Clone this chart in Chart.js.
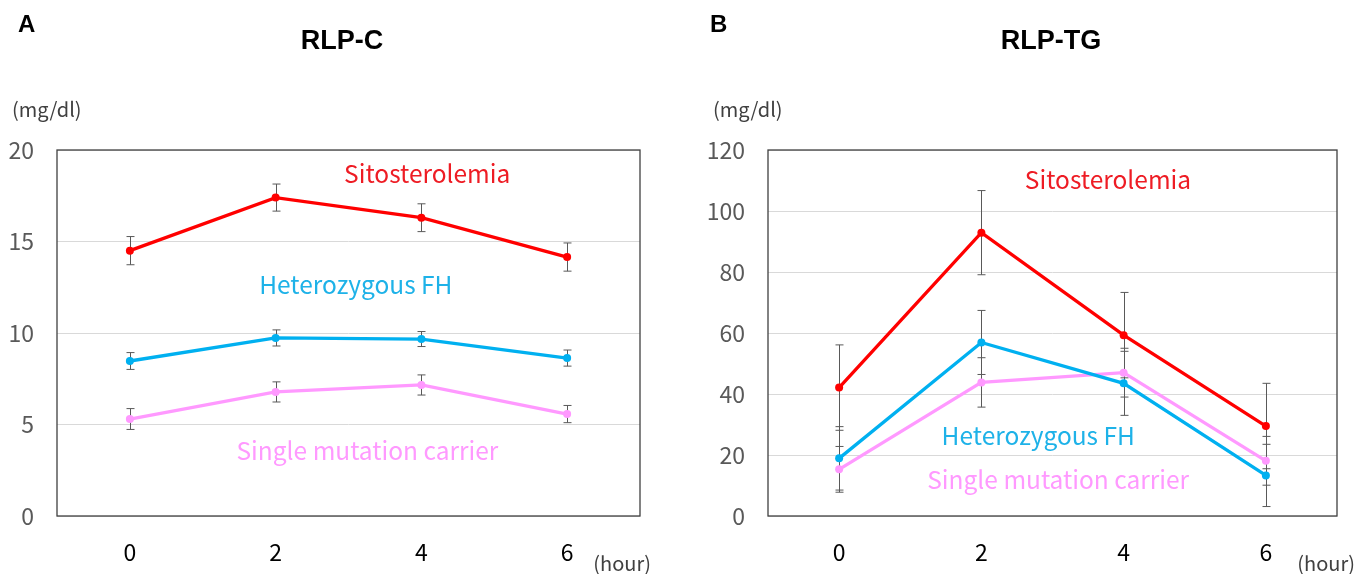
<!DOCTYPE html>
<html lang="en">
<head>
  <meta charset="UTF-8">
  <title>RLP-C / RLP-TG</title>
  <script src="https://cdn.jsdelivr.net/npm/chart.js@4.4.1/dist/chart.umd.min.js"></script>
  <style>
    body { margin: 0; background: #fff; }
    .panel { position: absolute; top: 0; }
  </style>
</head>
<body>
  <div class="panel" style="left:0"><canvas id="chartA" width="678" height="574"></canvas></div>
  <div class="panel" style="left:678px"><canvas id="chartB" width="677" height="574"></canvas></div>

  <script>
    // time points (hour)
    var hours = ["0", "2", "4", "6"];

    // RLP-C (mg/dl)
    var rlpcSito = [14.5, 17.4, 16.3, 14.15];
    var rlpcSitoErr = [0.77, 0.74, 0.76, 0.77];
    var rlpcHetero = [8.47, 9.73, 9.67, 8.63];
    var rlpcHeteroErr = [0.46, 0.44, 0.41, 0.44];
    var rlpcSingle = [5.3, 6.78, 7.16, 5.57];
    var rlpcSingleErr = [0.57, 0.55, 0.55, 0.47];

    // RLP-TG (mg/dl)
    var rlptgSito = [42.1, 92.9, 59.3, 29.5];
    var rlptgSitoErr = [14, 13.8, 14, 14];
    var rlptgHetero = [18.9, 56.9, 43.5, 13.3];
    var rlptgHeteroErr = [10.4, 10.5, 10.5, 10.2];
    var rlptgSingle = [15.3, 43.8, 47, 18.1];
    var rlptgSingleErr = [7.5, 8.1, 8, 8];

    var RED = "#FF0000", BLUE = "#00B0F0", PINK = "#FF99FF";
    var JP = "'Noto Sans CJK JP', 'Noto Sans', sans-serif";

    // error bars + plot frame, drawn under the lines
    var errorBars = {
      id: "errorBars",
      beforeDatasetsDraw(chart) {
        let ctx = chart.ctx, xs = chart.scales.x, ys = chart.scales.y, a = chart.chartArea;
        ctx.save();
        ctx.strokeStyle = "#404040";
        ctx.lineWidth = 1.3;
        ctx.strokeRect(a.left, a.top, a.right - a.left, a.bottom - a.top);
        ctx.strokeStyle = "#595959";
        ctx.lineWidth = 1;
        chart.data.datasets.forEach((ds) => {
          ds.errors.forEach((e, i) => {
            let x = Math.round(xs.getPixelForValue(i)) + 0.5;
            let y1 = ys.getPixelForValue(ds.data[i] + e);
            let y2 = ys.getPixelForValue(ds.data[i] - e);
            ctx.beginPath();
            ctx.moveTo(x, y1); ctx.lineTo(x, y2);
            ctx.moveTo(x - 4, y1); ctx.lineTo(x + 4, y1);
            ctx.moveTo(x - 4, y2); ctx.lineTo(x + 4, y2);
            ctx.stroke();
          });
        });
        ctx.restore();
      }
    };

    // titles, units and series names
    var texts = {
      id: "texts",
      afterDraw(chart) {
        let o = chart.options.plugins.texts;
        let ctx = chart.ctx, xs = chart.scales.x, ys = chart.scales.y;
        ctx.save();
        ctx.textBaseline = "middle";
        ctx.fillStyle = "#000";
        ctx.font = "bold 24px 'Liberation Sans', Arial, sans-serif";
        ctx.textAlign = "left";
        ctx.fillText(o.letter, o.letterX, 25);
        ctx.font = "bold 27px 'Liberation Sans', Arial, sans-serif";
        ctx.textAlign = "center";
        ctx.fillText(o.title, o.titleX, 42);
        ctx.font = "20px " + JP;
        ctx.fillStyle = "#404040";
        ctx.textAlign = "left";
        ctx.fillText("(mg/dl)", o.unitX, 109);
        ctx.textAlign = "right";
        ctx.fillText("(hour)", o.hourRight, 563);
        ctx.font = "24.5px " + JP;
        ctx.textAlign = "center";
        o.labels.forEach((l) => {
          ctx.fillStyle = l.color;
          ctx.fillText(l.text, xs.getPixelForValue(l.at[0]), ys.getPixelForValue(l.at[1]));
        });
        ctx.restore();
      }
    };

    function series(data, errors, color) {
      return {
        data: data,
        errors: errors,
        borderColor: color,
        backgroundColor: color,
        borderWidth: 3.3,
        pointRadius: 4,
        pointBorderWidth: 0,
        tension: 0
      };
    }

    function makeChart(id, sets, yMax, yStep, axisWidth, padRight, textOpts) {
      return new Chart(id, {
        type: "line",
        data: { labels: hours, datasets: sets },
        plugins: [errorBars, texts],
        options: {
          responsive: false,
          animation: false,
          layout: { padding: { top: 150, right: padRight, left: 0, bottom: 0 } },
          plugins: {
            legend: { display: false },
            tooltip: { enabled: false },
            texts: textOpts
          },
          scales: {
            x: {
              offset: true,
              grid: { display: false, drawTicks: false },
              border: { display: false },
              ticks: { color: "#000", padding: 22, font: { family: JP, size: 23 } },
              afterFit: (s) => { s.height = 58; }
            },
            y: {
              min: 0,
              max: yMax,
              grid: { color: "#D9D9D9", lineWidth: 1, drawTicks: false },
              border: { display: false },
              ticks: { stepSize: yStep, color: "#595959", padding: 23, font: { family: JP, size: 23 } },
              afterFit: (s) => { s.width = axisWidth; }
            }
          }
        }
      });
    }

    makeChart("chartA", [
      series(rlpcSito, rlpcSitoErr, RED),
      series(rlpcHetero, rlpcHeteroErr, BLUE),
      series(rlpcSingle, rlpcSingleErr, PINK)
    ], 20, 5, 57, 38, {
      letter: "A", letterX: 18, title: "RLP-C", titleX: 342, unitX: 12, hourRight: 651,
      labels: [
        { text: "Sitosterolemia", color: "#EE1C24", at: [2.04, 18.7] },
        { text: "Heterozygous FH", color: "#1EB2E8", at: [1.55, 12.62] },
        { text: "Single mutation carrier", color: "#FF99FF", at: [1.63, 3.55] }
      ]
    });

    makeChart("chartB", [
      series(rlptgSito, rlptgSitoErr, RED),
      series(rlptgHetero, rlptgHeteroErr, BLUE),
      series(rlptgSingle, rlptgSingleErr, PINK)
    ], 120, 20, 90, 18, {
      letter: "B", letterX: 32, title: "RLP-TG", titleX: 373, unitX: 35, hourRight: 677,
      labels: [
        { text: "Sitosterolemia", color: "#EE1C24", at: [1.89, 110.2] },
        { text: "Heterozygous FH", color: "#1EB2E8", at: [1.40, 26.2] },
        { text: "Single mutation carrier", color: "#FF99FF", at: [1.54, 11.8] }
      ]
    });
  </script>
</body>
</html>
